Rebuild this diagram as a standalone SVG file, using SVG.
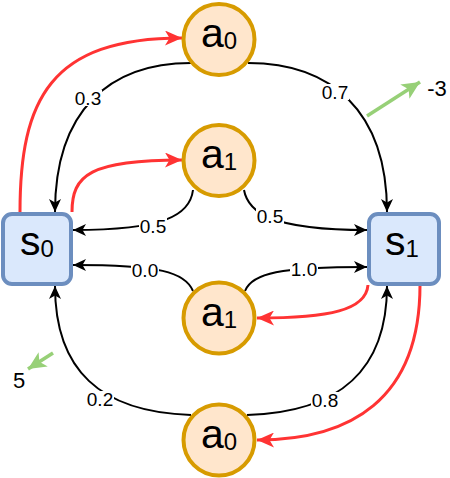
<svg xmlns="http://www.w3.org/2000/svg" width="450" height="478" viewBox="0 0 450 478">
<style>
.st{fill:#dae8fc;stroke:#6c8ebf;stroke-width:4}
.ac{fill:#ffe6cc;stroke:#d79b00;stroke-width:4}
.big{font-family:"Liberation Sans",Arial,sans-serif;fill:#000;text-anchor:middle}
.m{font-size:41px}
.sb{font-size:24px}
.lbl{font-family:"Liberation Sans",Arial,sans-serif;font-size:19px;fill:#000;text-anchor:middle}
.rw{font-size:22px}
.bk{fill:none;stroke:#000;stroke-width:2;marker-end:url(#mb)}
.rd{fill:none;stroke:#ff3333;stroke-width:3;marker-end:url(#mr)}
.gr{fill:none;stroke:#97d077;stroke-width:3.5;marker-end:url(#mg)}
.bg{fill:#fff}
</style>
<defs>
<marker id="mb" viewBox="0 0 13 12" refX="13" refY="6" markerWidth="13" markerHeight="12" markerUnits="userSpaceOnUse" orient="auto"><path d="M13,6 L0,0 L3.5,6 L0,12 Z" fill="#000"/></marker>
<marker id="mr" viewBox="0 0 17 15" refX="17" refY="7.5" markerWidth="17" markerHeight="15" markerUnits="userSpaceOnUse" orient="auto"><path d="M17,7.5 L0,0 L4.5,7.5 L0,15 Z" fill="#ff3333"/></marker>
<marker id="mg" viewBox="0 0 18 17" refX="18" refY="8.5" markerWidth="18" markerHeight="17" markerUnits="userSpaceOnUse" orient="auto"><path d="M18,8.5 L0,0 L4.5,8.5 L0,17 Z" fill="#97d077"/></marker>
</defs>
<g id="connectors">
<path class="rd" d="M20 212 C20 100,50 38,182 38"/>
<path class="rd" d="M72 212 C72 175,90 160,182 160"/>
<path class="bk" d="M191 63 C110 63,55 110,55 212"/>
<path class="bk" d="M248 63 C330 63,387 110,387 212"/>
<path class="bk" d="M193 190 C190 215,165 230,73 230"/>
<path class="bk" d="M244 190 C248 212,270 230,367 230"/>
<path class="bk" d="M193 291 C185 272,160 265,73 265"/>
<path class="bk" d="M245 291 C252 273,280 267,367 267"/>
<path class="rd" d="M368 285 C366 310,330 318,257 318"/>
<path class="bk" d="M247 415 C340 412,387 370,387 286"/>
<path class="bk" d="M191 415 C100 412,55 370,55 286"/>
<path class="rd" d="M420 285 C420 400,350 440,257 440"/>
<path class="gr" d="M367 116 L420 82"/>
<path class="gr" d="M53 353 L28 369"/>
<rect class="bg" x="74" y="90" width="28" height="16"/><text class="lbl" x="88" y="105">0.3</text>
<rect class="bg" x="321" y="84" width="28" height="16"/><text class="lbl" x="335" y="99">0.7</text>
<rect class="bg" x="139" y="218" width="28" height="16"/><text class="lbl" x="153" y="233">0.5</text>
<rect class="bg" x="256" y="208" width="28" height="16"/><text class="lbl" x="270" y="223">0.5</text>
<rect class="bg" x="131" y="262" width="28" height="16"/><text class="lbl" x="145" y="277">0.0</text>
<rect class="bg" x="290" y="261" width="28" height="16"/><text class="lbl" x="304" y="276">1.0</text>
<rect class="bg" x="311" y="392" width="28" height="16"/><text class="lbl" x="325" y="407">0.8</text>
<rect class="bg" x="86" y="391" width="28" height="16"/><text class="lbl" x="100" y="406">0.2</text>
<text class="lbl rw" x="437" y="96">-3</text>
<text class="lbl rw" x="19" y="388">5</text>
</g>
<g id="s0"><rect class="st" x="3" y="214" width="68" height="70" rx="9"/><text class="big" x="37" y="255"><tspan class="m">s</tspan><tspan class="sb" dy="2">0</tspan></text></g>
<g id="s1"><rect class="st" x="369" y="214" width="70" height="70" rx="9"/><text class="big" x="402" y="255"><tspan class="m">s</tspan><tspan class="sb" dy="2">1</tspan></text></g>
<g id="a0_top"><circle class="ac" cx="219" cy="39.5" r="35.5"/><text class="big" x="219" y="47"><tspan class="m">a</tspan><tspan class="sb" dy="2">0</tspan></text></g>
<g id="a1_top"><circle class="ac" cx="219" cy="160.5" r="35.5"/><text class="big" x="219" y="168"><tspan class="m">a</tspan><tspan class="sb" dy="2">1</tspan></text></g>
<g id="a1_bottom"><circle class="ac" cx="219" cy="318" r="35.5"/><text class="big" x="219" y="325.5"><tspan class="m">a</tspan><tspan class="sb" dy="2">1</tspan></text></g>
<g id="a0_bottom"><circle class="ac" cx="219" cy="440" r="35.5"/><text class="big" x="219" y="447.5"><tspan class="m">a</tspan><tspan class="sb" dy="2">0</tspan></text></g>
</svg>
